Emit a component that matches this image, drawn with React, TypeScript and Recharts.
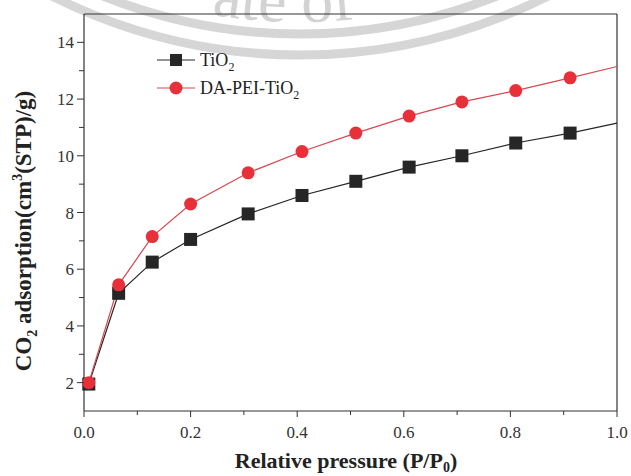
import React from "react";
import { LineChart, Line, XAxis, YAxis, ReferenceLine } from "recharts";

// relative pressure (P/P0) of each measured point
const pressure = [0.009, 0.065, 0.128, 0.2, 0.308, 0.409, 0.51, 0.61, 0.709, 0.81, 0.912, 1.0];
// CO2 uptake, cm3(STP)/g
const tio2 = [1.95, 5.15, 6.25, 7.05, 7.95, 8.6, 9.1, 9.6, 10.0, 10.45, 10.8, 11.15];
const daPeiTio2 = [2.0, 5.45, 7.15, 8.3, 9.4, 10.15, 10.8, 11.4, 11.9, 12.3, 12.75, 13.15];

const xTicks = [0, 0.1, 0.2, 0.3, 0.4, 0.5, 0.6, 0.7, 0.8, 0.9, 1.0];
const xMajor = [0, 0.2, 0.4, 0.6, 0.8, 1.0];
const yTicks = [2, 3, 4, 5, 6, 7, 8, 9, 10, 11, 12, 13, 14];
const yMajor = [2, 4, 6, 8, 10, 12, 14];

const data = pressure.map((p, i) => ({ p, tio2: tio2[i], da: daPeiTio2[i] }));

const FONT = "'Liberation Serif', 'Times New Roman', serif";
const AXIS = "#333";
const BLACK = "#262626";
const RED = "#e8303a";
const RED_LINE = "#d8474f";

const isMajor = (list: number[], v: number) => list.some((m) => Math.abs(m - v) < 1e-6);

const XTick = (props: any) => {
  const { x, y, payload } = props;
  const v = payload.value;
  const major = isMajor(xMajor, v);
  return (
    <g>
      <line x1={x} x2={x} y1={y} y2={y + (major ? 6 : 4)} stroke={AXIS} strokeWidth={1} />
      {major && (
        <text x={x} y={y + 27} textAnchor="middle" fontFamily={FONT} fontSize={17} fill="#333">
          {v.toFixed(1)}
        </text>
      )}
    </g>
  );
};

const YTick = (props: any) => {
  const { x, y, payload } = props;
  const v = payload.value;
  const major = isMajor(yMajor, v);
  return (
    <g>
      <line x1={x} x2={x - (major ? 7 : 5)} y1={y} y2={y} stroke={AXIS} strokeWidth={1} />
      {major && (
        <text x={x - 10} y={y + 6} textAnchor="end" fontFamily={FONT} fontSize={17} fill="#333">
          {v}
        </text>
      )}
    </g>
  );
};

// skip the marker of the last point: the curve just runs to the frame there
const lastP = pressure[pressure.length - 1];

const SquareDot = (props: any) => {
  const { cx, cy, payload, index } = props;
  if (payload.p >= lastP) return <g key={`s-${index}`} />;
  return <rect key={`s-${index}`} x={cx - 6.5} y={cy - 6.5} width={13} height={13} fill={BLACK} />;
};

const CircleDot = (props: any) => {
  const { cx, cy, payload, index } = props;
  if (payload.p >= lastP) return <g key={`c-${index}`} />;
  return <circle key={`c-${index}`} cx={cx} cy={cy} r={6.5} fill={RED} />;
};

// faint seal watermark across the top of the figure
function Watermark() {
  return (
    <svg width={631} height={476} style={{ position: "absolute", left: 0, top: 0, pointerEvents: "none" }}>
      <defs>
        <path id="wm-arc" d="M -34 -100 A 518 518 0 0 0 634 -100" />
      </defs>
      <circle cx={300} cy={-496} r={551} fill="none" stroke="#d6d6d6" strokeWidth={9} />
      <circle cx={300} cy={-496} r={530} fill="none" stroke="#d6d6d6" strokeWidth={9} />
      <text fontFamily={FONT} fontSize={64} fill="#d3d3d3">
        <textPath href="#wm-arc" startOffset={274}>
          ate of<tspan dx={110}>T</tspan>
        </textPath>
      </text>
    </svg>
  );
}

function Overlay() {
  return (
    <svg width={631} height={476} style={{ position: "absolute", left: 0, top: 0, pointerEvents: "none" }}>
      {/* legend */}
      <line x1={157} x2={195} y1={60} y2={60} stroke={BLACK} strokeWidth={1} />
      <rect x={170} y={54} width={12} height={12} fill={BLACK} />
      <text x={200} y={66} fontFamily={FONT} fontSize={18} fill="#222">
        TiO<tspan fontSize={12} dy={5}>2</tspan>
      </text>
      <line x1={157} x2={195} y1={88} y2={88} stroke={RED_LINE} strokeWidth={1} />
      <circle cx={176} cy={88} r={6.5} fill={RED} />
      <text x={200} y={94} fontFamily={FONT} fontSize={18} fill="#222">
        DA-PEI-TiO<tspan fontSize={12} dy={5}>2</tspan>
      </text>

      {/* axis titles */}
      <text x={346} y={468} textAnchor="middle" fontFamily={FONT} fontWeight="bold" fontSize={22} fill="#222">
        Relative pressure (P/P<tspan fontSize={14} dy={4}>0</tspan>
        <tspan dy={-4}>)</tspan>
      </text>
      <text
        transform="translate(31,231) rotate(-90)"
        textAnchor="middle"
        fontFamily={FONT}
        fontWeight="bold"
        fontSize={23}
        fill="#222"
      >
        CO<tspan fontSize={14} dy={6}>2</tspan>
        <tspan dy={-6}> adsorption(cm</tspan>
        <tspan fontSize={14} dy={-9}>3</tspan>
        <tspan dy={9}>(STP)/g)</tspan>
      </text>
    </svg>
  );
}

export default function App() {
  return (
    <div style={{ position: "absolute", left: 0, top: 0, width: 631, height: 476, background: "#fff" }}>
      <Watermark />
      <div style={{ position: "absolute", left: 0, top: 0 }}>
        <LineChart width={631} height={476} data={data} margin={{ top: 14, right: 14, left: 0, bottom: 0 }}>
          <XAxis
            dataKey="p"
            type="number"
            domain={[0, 1]}
            ticks={xTicks}
            interval={0}
            height={65}
            tickSize={0}
            tickMargin={0}
            tickLine={false}
            axisLine={{ stroke: AXIS, strokeWidth: 1.2 }}
            tick={<XTick />}
          />
          <YAxis
            type="number"
            domain={[1, 15]}
            ticks={yTicks}
            interval={0}
            width={84}
            tickSize={0}
            tickMargin={0}
            tickLine={false}
            axisLine={{ stroke: AXIS, strokeWidth: 1.2 }}
            tick={<YTick />}
          />
          <ReferenceLine y={15} stroke={AXIS} strokeWidth={1.2} />
          <ReferenceLine x={1} stroke={AXIS} strokeWidth={1.2} />
          <Line
            dataKey="tio2"
            stroke={BLACK}
            strokeWidth={1.2}
            dot={<SquareDot />}
            activeDot={false}
            isAnimationActive={false}
          />
          <Line
            dataKey="da"
            stroke={RED_LINE}
            strokeWidth={1.2}
            dot={<CircleDot />}
            activeDot={false}
            isAnimationActive={false}
          />
        </LineChart>
      </div>
      <Overlay />
    </div>
  );
}
